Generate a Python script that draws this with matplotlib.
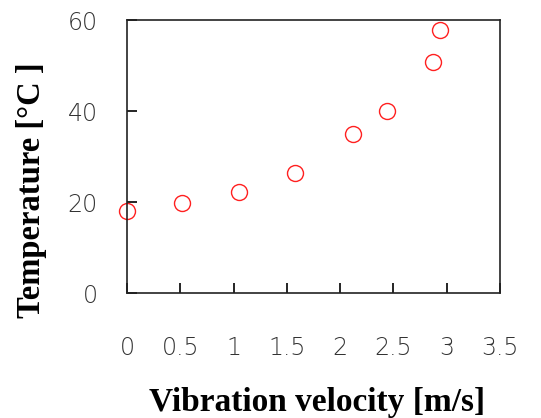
import matplotlib
matplotlib.use("Agg")
import matplotlib.pyplot as plt

velocity = [0.0, 0.52, 1.05, 1.58, 2.12, 2.44, 2.87, 2.94]
temperature = [18.0, 19.7, 22.1, 26.4, 34.9, 40.1, 50.8, 57.9]

x_ticks = [0, 0.5, 1, 1.5, 2, 2.5, 3, 3.5]
x_tick_labels = ["0", "0.5", "1", "1.5", "2", "2.5", "3", "3.5"]
y_ticks = [0, 20, 40, 60]
y_tick_labels = ["0", "20", "40", "60"]

fig = plt.figure(figsize=(5.41, 4.18), dpi=100)
ax = fig.add_axes([0.2348, 0.299, 0.689, 0.653])

ax.plot(velocity, temperature, linestyle="none", marker="o", markersize=11.5,
        markerfacecolor="none", markeredgecolor="#ff2020", markeredgewidth=1.0,
        clip_on=False)

ax.set_xlim(0, 3.5)
ax.set_ylim(0, 60)

ax.set_xticks(x_ticks)
ax.set_xticklabels(x_tick_labels)
ax.set_yticks(y_ticks)
ax.set_yticklabels(y_tick_labels)

for s in ax.spines.values():
    s.set_linewidth(1.2)
    s.set_color("#222222")

ax.tick_params(axis="x", direction="in", length=7, width=1.2, pad=31,
               labelsize=17, labelcolor="#333333")
ax.tick_params(axis="y", direction="in", length=7, width=1.2, pad=21,
               labelsize=17, labelcolor="#333333")
for lab in ax.get_xticklabels() + ax.get_yticklabels():
    lab.set_fontfamily("DejaVu Sans")
    lab.set_fontweight("light")

ax.set_xlabel("Vibration velocity [m/s]", fontfamily="Liberation Serif",
              fontweight="bold", fontsize=24)
ax.set_ylabel("Temperature [°C ]", fontfamily="Liberation Serif",
              fontweight="bold", fontsize=23.5)
ax.xaxis.set_label_coords(0.509, -0.344)
ax.yaxis.set_label_coords(-0.214, 0.377)

fig.savefig("out.png", dpi=100)
